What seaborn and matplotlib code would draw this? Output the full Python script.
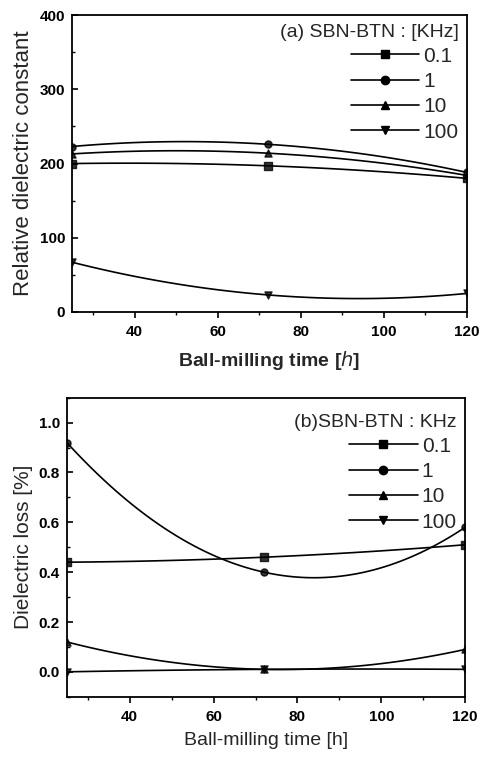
import matplotlib
matplotlib.use("Agg")
import matplotlib.pyplot as plt
from matplotlib.lines import Line2D
from matplotlib.ticker import MultipleLocator
import seaborn as sns

# data
hours = [25, 72, 120]
freqs = ["0.1", "1", "10", "100"]
markers = ["s", "o", "^", "v"]

# (a) relative dielectric constant
eps_01 = [200, 197, 180]
eps_1 = [223, 226, 188]
eps_10 = [213, 214, 184]
eps_100 = [67, 23, 25]

# (b) dielectric loss [%]
loss_01 = [0.44, 0.46, 0.51]
loss_1 = [0.92, 0.40, 0.58]
loss_10 = [0.12, 0.01, 0.09]
loss_100 = [0.00, 0.01, 0.01]

sns.set_style("ticks")
plt.rcParams["font.family"] = ["Liberation Sans", "DejaVu Sans"]

fig = plt.figure(figsize=(4.81, 7.59), dpi=100)
ax1 = fig.add_axes([0.150, 0.589, 0.821, 0.391])
ax2 = fig.add_axes([0.139, 0.082, 0.828, 0.394])


def draw(ax, series):
    for ys, m in zip(series, markers):
        sns.regplot(x=hours, y=ys, order=2, ci=None, marker=m, ax=ax,
                    color="k", scatter_kws={"s": 26, "zorder": 3},
                    line_kws={"lw": 1.2})


def style(ax):
    for s in ax.spines.values():
        s.set_color("k")
        s.set_linewidth(1.3)
    ax.tick_params(which="both", colors="k", labelsize=11)
    ax.tick_params(axis="x", which="both", direction="out", pad=5)
    ax.tick_params(axis="y", which="both", direction="in", pad=5)
    ax.tick_params(which="major", length=4.5, width=1.2)
    ax.tick_params(which="minor", length=2.5, width=1.0)
    for t in ax.get_xticklabels() + ax.get_yticklabels():
        t.set_fontweight("bold")


def legend(ax, title, anchor_y):
    handles = [Line2D([], [], color="k", lw=1.2, marker=m, markersize=6)
               for m in markers]
    lg = ax.legend(handles, freqs, title=title, loc="upper right",
                   bbox_to_anchor=(1.0, anchor_y),
                   frameon=False, handlelength=3.3, handletextpad=0.2,
                   labelspacing=0.3, fontsize=15, title_fontsize=14,
                   alignment="right", borderaxespad=0.1, borderpad=0.3)
    return lg


# panel (a)
draw(ax1, [eps_01, eps_1, eps_10, eps_100])
ax1.set_xlim(25, 120)
ax1.set_ylim(0, 400)
ax1.xaxis.set_major_locator(MultipleLocator(20))
ax1.xaxis.set_minor_locator(MultipleLocator(10))
ax1.yaxis.set_major_locator(MultipleLocator(100))
ax1.yaxis.set_minor_locator(MultipleLocator(50))
style(ax1)
ax1.set_xlabel("Ball-milling time [$\\it{h}$]", fontsize=14, fontweight="bold", labelpad=7)
ax1.set_ylabel("Relative dielectric constant", fontsize=16, labelpad=4)
legend(ax1, "(a) SBN-BTN : [KHz]", 1.0)

# panel (b)
draw(ax2, [loss_01, loss_1, loss_10, loss_100])
ax2.set_xlim(25, 120)
ax2.set_ylim(-0.1, 1.1)
ax2.xaxis.set_major_locator(MultipleLocator(20))
ax2.xaxis.set_minor_locator(MultipleLocator(10))
ax2.yaxis.set_major_locator(MultipleLocator(0.2))
ax2.yaxis.set_minor_locator(MultipleLocator(0.1))
style(ax2)
ax2.set_xlabel("Ball-milling time [h]", fontsize=14, labelpad=6)
ax2.set_ylabel("Dielectric loss [%]", fontsize=15, labelpad=4)
legend(ax2, "(b)SBN-BTN : KHz", 0.975)

fig.savefig("out.png", dpi=100)
